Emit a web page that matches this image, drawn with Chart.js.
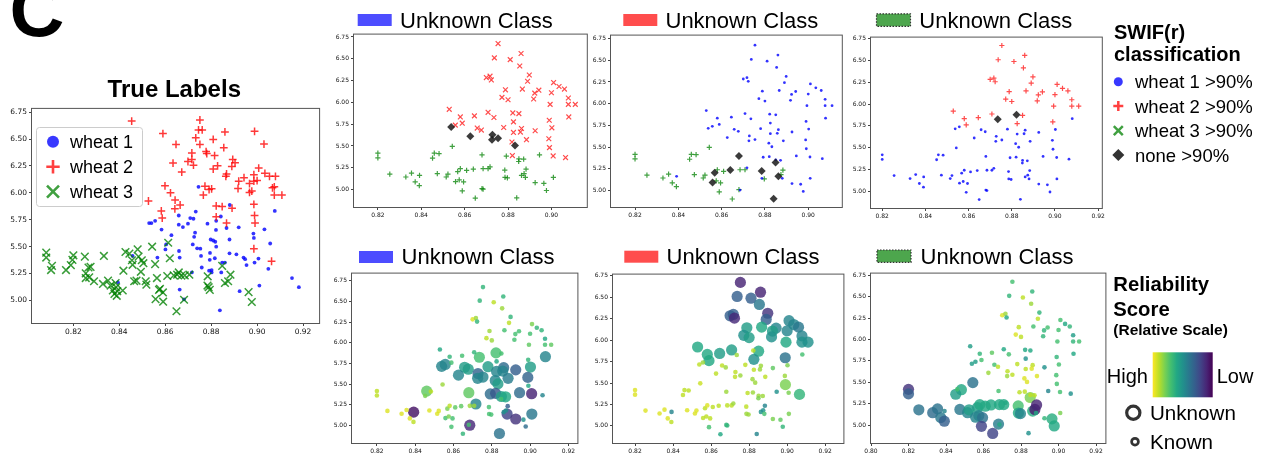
<!DOCTYPE html>
<html>
<head>
<meta charset="utf-8">
<script src="https://cdn.jsdelivr.net/npm/chart.js@4.4.1/dist/chart.umd.min.js"></script>
<style>
  html, body { margin: 0; padding: 0; background: #fff; }
  body { width: 1263px; height: 454px; position: relative; overflow: hidden; }
  #labels { position: absolute; left: 0; top: 0; pointer-events: none; }
  #labels text { font-family: "Liberation Sans", Arial, sans-serif; fill: #000; }
</style>
</head>
<body>
<svg id="labels" width="1263" height="454" xmlns="http://www.w3.org/2000/svg">
  <text x="9.6" y="35.5" font-size="76" font-weight="bold">C</text>

  <!-- full data set -->
  <text x="174.3" y="96.5" font-size="24" font-weight="bold" text-anchor="middle">True Labels</text>
  <rect x="36.5" y="127.5" width="106" height="79" rx="3" fill="#fff" fill-opacity="0.8" stroke="#cccccc"/>
  <circle cx="53" cy="141.7" r="6" fill="rgba(0,0,255,0.78)"/>
  <path d="M46.3 166.7H59.7M53 160V173.4" stroke="rgba(255,0,0,0.75)" stroke-width="2.6"/>
  <path d="M47 185.7L59 197.7M47 197.7L59 185.7" stroke="rgba(0,128,0,0.75)" stroke-width="2.6"/>
  <text x="70" y="148.3" font-size="18">wheat 1</text>
  <text x="70" y="173.3" font-size="18">wheat 2</text>
  <text x="70" y="198.3" font-size="18">wheat 3</text>

  <!-- held-out class headers, classification row -->
  <rect x="357.7" y="14" width="34" height="12" fill="#4d4dff"/>
  <text x="400" y="28" font-size="22">Unknown Class</text>
  <rect x="623.3" y="14" width="34" height="12" fill="#ff4d4d"/>
  <text x="665.5" y="28" font-size="22">Unknown Class</text>
  <rect x="876.5" y="13.8" width="34" height="12.5" fill="#4da64d" stroke="#333" stroke-width="1.2" stroke-dasharray="1.5,1.5"/>
  <text x="919.3" y="28" font-size="22">Unknown Class</text>

  <!-- held-out class headers, reliability row -->
  <rect x="359" y="251" width="34" height="12" fill="#4d4dff"/>
  <text x="401.6" y="264" font-size="22">Unknown Class</text>
  <rect x="624.3" y="250.7" width="34" height="12" fill="#ff4d4d"/>
  <text x="666.6" y="264" font-size="22">Unknown Class</text>
  <rect x="877" y="250" width="34" height="12.3" fill="#4da64d" stroke="#333" stroke-width="1.2" stroke-dasharray="1.5,1.5"/>
  <text x="920.6" y="264" font-size="22">Unknown Class</text>

  <!-- classification key -->
  <text x="1114" y="39.3" font-size="20" font-weight="bold">SWIF(r)</text>
  <text x="1114" y="60.5" font-size="20" font-weight="bold">classification</text>
  <circle cx="1118.3" cy="81.7" r="4.5" fill="rgba(0,0,255,0.78)"/>
  <path d="M1113.3 106H1123.3M1118.3 101V111" stroke="rgba(255,0,0,0.75)" stroke-width="2.5"/>
  <path d="M1113.8 126.2L1122.8 135.2M1113.8 135.2L1122.8 126.2" stroke="rgba(0,128,0,0.75)" stroke-width="2.5"/>
  <path d="M1118.3 149L1124.3 155L1118.3 161L1112.3 155Z" fill="#333"/>
  <text x="1135" y="88.4" font-size="18.5">wheat 1 &gt;90%</text>
  <text x="1135" y="112.7" font-size="18.5">wheat 2 &gt;90%</text>
  <text x="1135" y="137.4" font-size="18.5">wheat 3 &gt;90%</text>
  <text x="1135" y="161.6" font-size="18.5">none &gt;90%</text>

  <!-- reliability key -->
  <defs>
    <linearGradient id="viri" x1="0" x2="1" y1="0" y2="0">
      <stop offset="0" stop-color="#fde725"/>
      <stop offset="0.1" stop-color="#bddf26"/>
      <stop offset="0.2" stop-color="#7ad151"/>
      <stop offset="0.3" stop-color="#44bf70"/>
      <stop offset="0.4" stop-color="#22a884"/>
      <stop offset="0.5" stop-color="#21918c"/>
      <stop offset="0.6" stop-color="#2a788e"/>
      <stop offset="0.7" stop-color="#355f8d"/>
      <stop offset="0.8" stop-color="#414487"/>
      <stop offset="0.9" stop-color="#482475"/>
      <stop offset="1" stop-color="#440154"/>
    </linearGradient>
  </defs>
  <text x="1113.3" y="291" font-size="20.3" font-weight="bold">Reliability</text>
  <text x="1113.3" y="316" font-size="20.3" font-weight="bold">Score</text>
  <text x="1113.3" y="335" font-size="15.5" font-weight="bold">(Relative Scale)</text>
  <rect x="1152.7" y="352.3" width="60" height="45" fill="url(#viri)"/>
  <text x="1148" y="383" font-size="20" text-anchor="end">High</text>
  <text x="1216.7" y="383" font-size="20">Low</text>
  <circle cx="1133.3" cy="412.7" r="6.6" fill="none" stroke="#333" stroke-width="3.2"/>
  <text x="1150" y="420" font-size="20.6">Unknown</text>
  <circle cx="1135" cy="441.7" r="3.4" fill="none" stroke="#333" stroke-width="2.7"/>
  <text x="1150" y="449" font-size="20.6">Known</text>
</svg>

<script>
// ---- full data set, by true label: [compactness, kernel length] ----
const allWheat1 = [[0.8745,6.056],[0.8530,5.719],[0.8540,5.719],[0.8556,5.740],[0.8584,5.658],[0.8627,5.606],[0.8604,5.520],[0.8659,5.789],[0.8659,5.704],[0.8677,5.682],
  [0.8699,5.713],[0.8709,5.765],[0.8723,5.759],[0.8730,5.630],[0.8726,5.591],[0.8720,5.520],[0.8739,5.484],[0.8753,5.481],[0.8733,5.826],[0.8784,5.713],
  [0.8822,5.740],[0.8821,5.655],[0.8798,5.566],[0.8809,5.557],[0.8818,5.545],[0.8822,5.499],[0.8795,5.441],[0.8794,5.377],[0.8816,5.392],[0.8842,5.780],
  [0.8867,5.673],[0.8881,5.887],[0.8880,5.566],[0.8880,5.438],[0.8910,5.428],[0.8920,5.679],[0.8941,5.398],[0.8948,5.383],[0.8954,5.328],[0.8984,5.621],
  [0.8986,5.581],[0.8989,5.352],[0.9006,5.389],[0.9032,5.661],[0.9077,5.832],[0.9057,5.529],[0.9049,5.294],[0.9152,5.208],[0.9182,5.123],[0.8660,5.459],
  [0.8663,5.398],[0.8756,5.413],[0.8802,5.282],[0.8802,5.260],[0.8844,5.260],[0.8848,5.352],[0.8860,5.352],[0.8924,5.086],[0.9010,5.138],[0.8663,5.101],
  [0.8838,4.908],[0.8566,5.398],[0.8458,5.413],[0.8394,5.168],[0.8759,5.306],[0.8601,5.474],[0.8791,5.276],[0.8716,5.260],[0.8682,5.010]];
const allWheat2 = [[0.8454,6.667],[0.8751,6.677],[0.8745,6.585],[0.8761,6.585],[0.8733,6.511],[0.8751,6.450],[0.8647,6.450],[0.8590,6.551],[0.8809,6.496],[0.8860,6.566],
  [0.8989,6.572],[0.9030,6.453],[0.8716,6.371],[0.8778,6.383],[0.8781,6.365],[0.8815,6.346],[0.8855,6.420],[0.8699,6.291],[0.8716,6.310],[0.8723,6.257],
  [0.8634,6.276],[0.8672,6.193],[0.8828,6.251],[0.8809,6.221],[0.8894,6.310],[0.8904,6.279],[0.8890,6.245],[0.8867,6.175],[0.8864,6.153],[0.8599,6.065],
  [0.8623,6.000],[0.8527,5.924],[0.8643,5.933],[0.8583,5.832],[0.8587,5.765],[0.8642,5.851],[0.8665,5.887],[0.8773,6.062],[0.8791,6.031],[0.8802,6.037],
  [0.8766,5.979],[0.8822,5.878],[0.8822,5.777],[0.8848,5.872],[0.8891,5.857],[0.8867,5.719],[0.8920,6.108],[0.8917,6.040],[0.8943,6.141],[0.8967,6.086],
  [0.8986,6.169],[0.8986,6.108],[0.9000,6.114],[0.9007,6.230],[0.9034,6.181],[0.9054,6.153],[0.9080,6.153],[0.9067,6.046],[0.9075,6.056],[0.9075,5.979],
  [0.9108,5.979],[0.8967,6.004],[0.8977,6.016],[0.8986,5.893],[0.8989,5.790],[0.8991,5.719],[0.8986,5.480],[0.9063,5.364]];
const allWheat3 = [[0.8082,5.444],[0.8082,5.398],[0.8107,5.321],[0.8103,5.282],[0.8168,5.282],[0.8189,5.328],[0.8196,5.377],[0.8200,5.419],[0.8250,5.407],[0.8266,5.306],
  [0.8275,5.312],[0.8254,5.251],[0.8254,5.208],[0.8269,5.214],[0.8290,5.178],[0.8333,5.413],[0.8329,5.153],[0.8351,5.184],[0.8362,5.138],[0.8372,5.092],
  [0.8384,5.162],[0.8386,5.123],[0.8391,5.086],[0.8379,5.061],[0.8389,5.043],[0.8415,5.092],[0.8418,5.276],[0.8427,5.450],[0.8444,5.435],[0.8455,5.373],
  [0.8458,5.331],[0.8465,5.178],[0.8475,5.184],[0.8480,5.474],[0.8484,5.407],[0.8498,5.373],[0.8505,5.346],[0.8494,5.266],[0.8515,5.178],[0.8518,5.147],
  [0.8543,5.499],[0.8556,5.337],[0.8564,5.208],[0.8573,5.098],[0.8558,5.012],[0.8591,4.988],[0.8590,5.074],[0.8577,5.107],[0.8613,5.536],[0.8620,5.392],
  [0.8609,5.227],[0.8637,5.233],[0.8652,5.239],[0.8659,5.260],[0.8670,5.230],[0.8685,5.233],[0.8705,5.239],[0.8649,4.899],[0.8682,5.006],[0.8785,5.224],
  [0.8784,5.138],[0.8789,5.123],[0.8794,5.098],[0.8848,5.321],[0.8860,5.162],[0.8874,5.178],[0.8884,5.239],[0.8963,5.077],[0.8977,4.985]];

// ---- test set ----
const testX = [0.8754,0.8860,0.8737,0.8810,0.8854,0.8898,0.8700,0.8717,0.8723,0.8890,
  0.9010,0.8788,0.8866,0.9035,0.9060,0.8942,0.8923,0.9000,0.8772,0.8800,
  0.8918,0.9078,0.9078,0.9110,0.8994,0.8529,0.8708,0.8850,0.8580,0.8645,
  0.8589,0.8825,0.8990,0.8735,0.8822,0.9080,0.8538,0.8557,0.8780,0.8658,
  0.8677,0.8862,0.9002,0.8825,0.8857,0.8925,0.8626,0.8728,0.8754,0.8726,
  0.8885,0.8988,0.8543,0.8818,0.8832,0.8991,0.8200,0.8200,0.8460,0.8482,
  0.8452,0.8680,0.8792,0.8820,0.8945,0.9008,0.9065,0.8850,0.8872,0.8849,
  0.8255,0.8329,0.8355,0.8392,0.8372,0.8391,0.8474,0.8515,0.8523,0.8568,
  0.8580,0.8609,0.8640,0.8685,0.8708,0.8717,0.8558,0.8575,0.8595,0.8589,
  0.8680,0.8649,0.8785,0.8786,0.8797,0.8862,0.8874,0.8883,0.8880,0.8925,
  0.8965,0.8977,0.9009,0.8840,0.8685];
const testY = [6.674,6.560,6.510,6.490,6.417,6.314,6.284,6.300,6.257,6.242,
  6.227,6.144,6.152,6.182,6.152,6.140,6.106,6.110,6.057,6.030,
  6.038,6.050,5.977,5.977,5.977,5.920,5.886,5.871,5.833,5.845,
  5.761,5.776,5.795,5.826,5.879,5.833,5.716,5.739,5.712,5.705,
  5.682,5.700,5.708,5.655,5.659,5.674,5.610,5.629,5.587,5.572,
  5.572,5.583,5.496,5.545,5.504,5.481,5.417,5.364,5.417,5.413,
  5.360,5.398,5.383,5.390,5.398,5.386,5.367,5.352,5.348,5.322,
  5.178,5.144,5.189,5.163,5.087,5.045,5.182,5.144,5.178,5.205,
  5.239,5.220,5.235,5.239,5.239,5.261,5.091,5.110,5.087,4.985,
  5.011,4.902,5.224,5.140,5.133,5.163,5.182,5.235,5.140,5.080,
  5.072,4.989,5.140,4.905,5.005];
// true variety of each test kernel (1, 2, 3)
const testClass = [2,2,2,2,2,2,2,2,2,2, 2,2,2,2,2,2,2,2,2,2, 2,2,2,2,2,2,2,2,2,2,
  2,2,2,1,1,1,1,1,1,1, 1,1,1,1,1,1,1,1,1,1, 1,1,3,1,1,2,3,3,1,3,
  3,1,1,1,1,1,2,1,1,3, 3,3,3,1,3,3,3,3,3,3, 3,3,3,3,3,1,3,3,3,3,
  3,3,3,3,3,3,3,3,1,1, 3,3,1,1,1];
// SWIF(r) call per kernel with one variety held out (0 = none above 90%)
const predNo1 = [2,2,2,2,2,2,2,2,2,2, 2,2,2,2,2,2,2,2,2,2, 2,2,2,2,2,2,2,2,2,2,
  2,2,2,2,2,2,0,2,2,2, 2,2,2,2,2,2,0,0,0,0, 2,2,3,2,0,2,3,3,3,3,
  3,3,3,2,3,2,2,3,3,3, 3,3,3,3,3,3,3,3,3,3, 3,3,3,3,3,3,3,3,3,3,
  3,3,3,3,3,3,3,3,3,3, 3,3,3,3,3];
const predNo2 = [1,1,1,1,1,1,1,1,1,1, 1,1,1,1,1,1,1,1,1,1, 1,1,1,1,1,1,1,1,1,1,
  1,1,1,1,1,1,1,1,1,1, 1,1,1,1,1,1,1,1,1,1, 1,1,3,1,1,1,3,3,3,3,
  3,0,1,1,1,1,1,1,1,0, 3,3,3,1,3,3,3,3,3,0, 3,3,0,3,3,1,0,3,3,3,
  3,3,0,1,3,0,3,3,1,1, 1,1,1,0,1];
const predNo3 = [2,2,2,2,2,2,2,2,2,2, 2,2,2,2,2,2,2,2,2,2, 2,2,2,2,2,2,2,2,2,2,
  2,2,2,0,0,1,1,1,1,1, 1,1,1,1,1,1,1,1,1,1, 1,1,1,1,1,1,1,1,1,1,
  1,1,1,1,1,1,1,1,1,1, 1,1,1,1,1,1,1,1,1,1, 1,1,1,1,1,1,1,1,1,1,
  1,1,1,1,1,1,1,1,1,1, 1,1,1,1,1];
// relative reliability score (1 = high, 0 = low) with one variety held out
const relNo1 = [.65,.65,.65,.9,.85,.65,.95,.85,.65,.9, .8,.85,.7,.65,.65,.7,.7,.7,.9,.85,
  .7,.6,.7,.75,.75,.6,.65,.7,.65,.7, .7,.6,.65,.7,.7,.45,.45,.45,.55,.55,
  .55,.35,.55,.45,.45,.3,.45,.32,.45,.45, .42,.32,.85,.45,.55,.6,.9,.9,.75,.9,
  .8,.75,.35,.28,.35,.1,.45,.55,.6,.7, .95,.95,.95,.05,.95,.9,.95,.95,.95,.8,
  .9,.75,.75,.85,.85,.45,.7,.8,.7,.7, .7,.65,.7,.7,.7,.5,.5,.3,.2,.15,
  .5,.35,.4,.38,.12];
const relNo2 = [.1,.1,.3,.3,.4,.15,.3,.3,.12,.3, .45,.55,.6,.45,.4,.45,.55,.45,.5,.55,
  .5,.45,.5,.5,.6,.6,.55,.6,.6,.55, .6,.5,.38,.85,.9,.7,.9,.85,.9,.9,
  .85,.85,.8,.9,.85,.75,.9,.9,.85,.9, .9,.85,.92,.85,.85,.8,.95,.95,.9,.9,
  .9,.85,.9,.85,.5,.8,.65,.85,.85,.8, .95,.95,.95,.45,.95,.9,.95,.95,.95,.9,
  .95,.9,.9,.9,.9,.85,.9,.9,.9,.7, .65,.6,.9,.85,.85,.5,.5,.45,.7,.8,
  .75,.65,.8,.45,.65];
const relNo3 = [.7,.65,.65,.9,.85,.65,.95,.85,.6,.9, .7,.9,.7,.6,.65,.7,.65,.7,.95,.9,
  .65,.55,.65,.7,.7,.55,.6,.6,.65,.75, .7,.5,.65,.7,.6,.6,.55,.55,.9,.7,
  .9,.9,.7,.9,.95,.5,.85,.9,.9,.85, .95,.7,.38,.95,.95,.7,.15,.3,.7,.6,
  .55,.7,.9,.9,.45,.7,.5,.9,.9,.8, .38,.35,.38,.45,.4,.3,.4,.45,.55,.55,
  .6,.6,.6,.6,.6,.6,.45,.45,.38,.2, .42,.2,.7,.6,.45,.62,.08,.1,.6,.65,
  .62,.6,.8,.5,.6];

// ---- axis ticks ----
const yTicks = [5.00, 5.25, 5.50, 5.75, 6.00, 6.25, 6.50, 6.75];
const xTicks82to90 = [0.82, 0.84, 0.86, 0.88, 0.90];
const xTicks82to92 = [0.82, 0.84, 0.86, 0.88, 0.90, 0.92];
const xTicks80to92 = [0.80, 0.82, 0.84, 0.86, 0.88, 0.90, 0.92];

// ---- drawing helpers ----
Chart.defaults.font.family = '"DejaVu Sans", sans-serif';

const VIRIDIS = ['#440154','#482475','#414487','#355f8d','#2a788e','#21918c','#22a884','#44bf70','#7ad151','#bddf26','#fde725'];
function hexRgb(h) { return [1, 3, 5].map(k => parseInt(h.substr(k, 2), 16)); }
function viridis(t, a) {
  t = Math.max(0, Math.min(1, t));
  const s = t * 10, i = Math.min(9, Math.floor(s)), f = s - i;
  const c0 = hexRgb(VIRIDIS[i]), c1 = hexRgb(VIRIDIS[i + 1]);
  const c = c0.map((v, k) => Math.round(v + (c1[k] - v) * f));
  return `rgba(${c[0]},${c[1]},${c[2]},${a})`;
}

const frame = {
  id: 'frame',
  afterDraw(chart) {
    const { ctx, chartArea: a } = chart;
    ctx.save();
    ctx.strokeStyle = '#555';
    ctx.lineWidth = 1;
    ctx.strokeRect(a.left - 0.5, a.top - 0.5, a.right - a.left + 1, a.bottom - a.top + 1);
    ctx.restore();
  }
};

// box = [left, top, right, bottom] of the plotting area on the page
function panel(box, xr, yr, xt, datasets, big) {
  const YW = big ? 30 : 22, XH = big ? 18 : 14, PT = 4, PR = 4;
  const fs = big ? 7.5 : 6;
  const w = box[2] - box[0] + YW + PR, h = box[3] - box[1] + PT + XH;
  const cv = document.createElement('canvas');
  cv.width = w; cv.height = h;
  cv.style.cssText = `position:absolute;left:${box[0] - YW}px;top:${box[1] - PT}px;width:${w}px;height:${h}px`;
  document.body.insertBefore(cv, document.getElementById('labels'));
  const axis = (ticks, min, max, fit) => ({
    type: 'linear', min, max,
    afterFit: fit,
    afterBuildTicks: s => { s.ticks = ticks.map(v => ({ value: v })); },
    ticks: { font: { size: fs }, color: '#111', padding: 2, maxRotation: 0, autoSkip: false,
             callback: v => Number(v).toFixed(2) },
    grid: { drawOnChartArea: false, drawTicks: true, tickLength: 3, color: '#444', lineWidth: 1 },
    border: { display: false }
  });
  new Chart(cv, {
    type: 'scatter',
    data: { datasets },
    options: {
      responsive: false, animation: false, devicePixelRatio: 1,
      layout: { padding: { top: PT, right: PR, left: 0, bottom: 0 } },
      plugins: { legend: { display: false }, tooltip: { enabled: false } },
      events: [],
      scales: {
        x: axis(xt, xr[0], xr[1], s => { s.height = XH; }),
        y: axis(yTicks, yr[0], yr[1], s => { s.width = YW; })
      }
    },
    plugins: [frame]
  });
}

const pts = arr => arr.map(p => ({ x: p[0], y: p[1] }));

// True Labels
panel([32, 106, 322, 323], [0.802, 0.927], [4.79, 6.78], xTicks82to92, [
  { data: pts(allWheat3), pointStyle: 'crossRot', pointRadius: 5.4, pointBorderColor: 'rgba(0,128,0,0.78)', pointBorderWidth: 1.5 },
  { data: pts(allWheat2), pointStyle: 'cross', pointRadius: 3.9, pointBorderColor: 'rgba(255,0,0,0.78)', pointBorderWidth: 1.5 },
  { data: pts(allWheat1), pointStyle: 'circle', pointRadius: 1.9, pointBackgroundColor: 'rgba(0,0,255,0.8)', pointBorderWidth: 0 }
], true);

// classification panels
function classSets(pred, redStyle, greenStyle) {
  const look = {
    0: { pointStyle: 'rectRot', pointRadius: 4, pointBackgroundColor: 'rgba(25,25,25,0.85)', pointBorderWidth: 0 },
    1: { pointStyle: 'circle', pointRadius: 1.4, pointBackgroundColor: 'rgba(0,0,255,0.8)', pointBorderWidth: 0 },
    2: { pointStyle: redStyle, pointRadius: redStyle === 'cross' ? 2.6 : 3.4, pointBorderColor: 'rgba(255,0,0,0.7)', pointBorderWidth: 1.2 },
    3: { pointStyle: greenStyle, pointRadius: greenStyle === 'cross' ? 2.6 : 3.4, pointBorderColor: 'rgba(0,128,0,0.75)', pointBorderWidth: 1.2 }
  };
  return [0, 1, 2, 3].map(c => Object.assign({
    data: testX.map((x, i) => ({ x, y: testY[i], c: pred[i] })).filter(p => p.c === c)
  }, look[c])).filter(d => d.data.length);
}
panel([354, 33, 588, 207], [0.809, 0.9163], [4.80, 6.777], xTicks82to90, classSets(predNo1, 'crossRot', 'cross'));
panel([611, 34, 843, 207], [0.8089, 0.9155], [4.81, 6.784], xTicks82to90, classSets(predNo2, 'crossRot', 'cross'));
panel([871, 36, 1103, 208], [0.8148, 0.9217], [4.805, 6.765], xTicks82to92, classSets(predNo3, 'cross', 'crossRot'));

// reliability panels: held-out variety drawn large
function reliabilitySets(heldOut, rel) {
  const known = [], unknown = [], kc = [], uc = [];
  testX.forEach((x, i) => {
    const p = { x, y: testY[i] };
    const col = viridis(rel[i], 0.82);
    if (testClass[i] === heldOut) { unknown.push(p); uc.push(col); }
    else { known.push(p); kc.push(col); }
  });
  return [
    { data: known, pointStyle: 'circle', pointRadius: 2.3, pointBackgroundColor: kc, pointBorderWidth: 0 },
    { data: unknown, pointStyle: 'circle', pointRadius: 5.6, pointBackgroundColor: uc, pointBorderWidth: 0 }
  ];
}
panel([352, 272, 579, 443], [0.807, 0.9247], [4.79, 6.837], xTicks82to92, reliabilitySets(1, relNo1));
panel([613, 273, 845, 443], [0.8084, 0.9296], [4.80, 6.765], xTicks82to92, reliabilitySets(2, relNo2));
panel([871, 272, 1107, 443], [0.800, 0.925], [4.79, 6.77], xTicks80to92, reliabilitySets(3, relNo3));
</script>
</body>
</html>
